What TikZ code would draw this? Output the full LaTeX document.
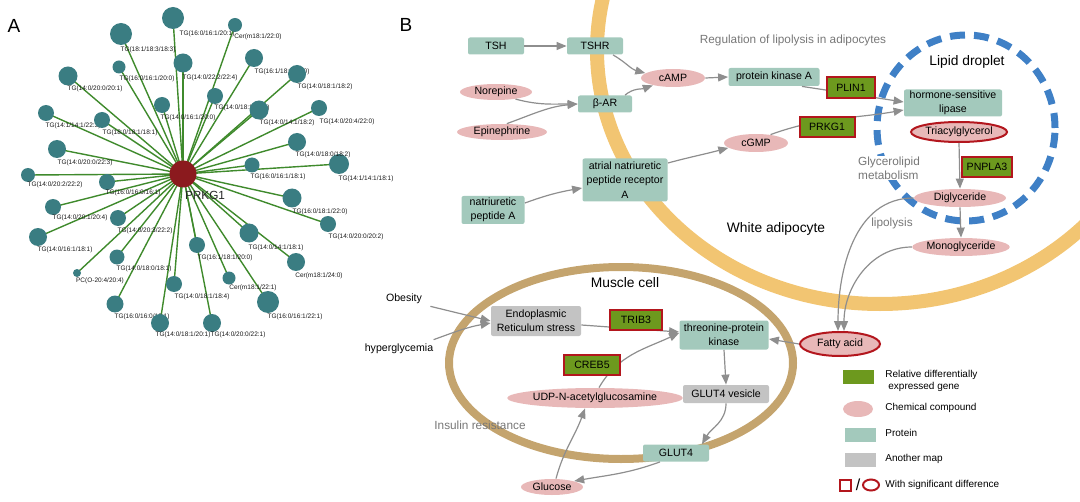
\documentclass[tikz,border=0pt]{standalone}
\usepackage{fontspec}
\setmainfont{Liberation Sans}
\usetikzlibrary{arrows.meta,shapes.geometric,backgrounds}
\definecolor{spokegreen}{HTML}{3F8A2C}
\definecolor{leafteal}{HTML}{3A7D82}
\definecolor{hubred}{HTML}{8B1A1E}
\definecolor{protc}{HTML}{A3C9BC}
\definecolor{genec}{HTML}{6D991E}
\definecolor{sigred}{HTML}{B3161D}
\definecolor{chemc}{HTML}{E8B8B8}
\definecolor{mapgray}{HTML}{C3C3C3}
\definecolor{arrgray}{HTML}{8E8E8E}
\definecolor{adipo}{HTML}{F2C572}
\definecolor{musclec}{HTML}{C4A46E}
\definecolor{droplet}{HTML}{3F80C6}
\definecolor{labgray}{HTML}{777777}
\tikzset{
  leaf/.style={circle, fill=leafteal, inner sep=0pt},
  lbl/.style={font=\fontsize{3.25}{3.7}\selectfont, inner sep=0pt, text=black!90},
  spoke/.style={draw=spokegreen, line width=0.7pt},
  protbox/.style={rectangle, rounded corners=1pt, fill=protc, font=\fontsize{5.3}{7.2}\selectfont, inner sep=0pt, align=center},
  mapbox/.style={protbox, fill=mapgray},
  genebox/.style={rectangle, fill=genec, draw=sigred, line width=1pt, font=\fontsize{5.3}{7.2}\selectfont, inner sep=0pt},
  chemell/.style={ellipse, fill=chemc, inner sep=0pt, font=\fontsize{5.3}{7.2}\selectfont},
  sigell/.style={chemell, draw=sigred, line width=1pt},
  arr/.style={draw=arrgray, line width=0.6pt, -{Triangle[length=5pt,width=4pt]}},
  plaintext/.style={font=\fontsize{5.3}{7.2}\selectfont, inner sep=0pt},
  grayt/.style={font=\fontsize{5.9}{7.2}\selectfont, text=labgray, inner sep=0pt},
  headt/.style={font=\fontsize{6.9}{8}\selectfont, inner sep=0pt},
  legt/.style={font=\fontsize{5}{6.4}\selectfont, inner sep=0pt, anchor=west, align=left},
  legbox/.style={rectangle, inner sep=0pt, minimum width=15.5pt, minimum height=6.8pt},
  panel/.style={font=\fontsize{9.5}{10}\selectfont, inner sep=0pt}
}
\newcommand\leafnode[7]{%
  \node[leaf, minimum size=#4pt] (#1) at (#2,#3) {};
  \node[lbl] (#1l) at (#5,#6) {#7};
  \begin{pgfonlayer}{background}\draw[spoke] (hub.center) -- (#1.center);\end{pgfonlayer}}
\begin{document}
\begin{tikzpicture}[x=0.5pt,y=-0.5pt]
\useasboundingbox (0,0) rectangle (1080,502);
% ---------------- Panel A ----------------
\node[panel] (pa) at (14,26) {A};
\node[circle, fill=hubred, minimum size=13.5pt, inner sep=0pt] (hub) at (183,174) {};
\node[font=\fontsize{5.9}{7}\selectfont, inner sep=0pt, text=black!85] (hubl) at (205,195) {PRKG1};
\leafnode{a1}{173}{18}{11}{207}{34}{TG(16:0/16:1/20:1)}
\leafnode{a2}{121}{34}{11}{148}{50}{TG(18:1/18:3/18:3)}
\leafnode{a3}{119}{67}{6.5}{147}{79}{TG(16:0/16:1/20:0)}
\leafnode{a4}{183}{63}{9.5}{210}{78}{TG(14:0/22:2/22:4)}
\leafnode{a5}{68}{76}{9.5}{95}{89}{TG(14:0/20:0/20:1)}
\leafnode{a6}{162}{105}{8}{188}{118}{TG(14:0/16:1/20:0)}
\leafnode{a7}{46}{113}{8}{73}{126}{TG(14:1/14:1/22:3)}
\leafnode{a8}{102}{120}{8}{130}{133}{TG(18:0/18:1/18:1)}
\leafnode{a9}{57}{149}{9}{85}{163}{TG(14:0/20:0/22:3)}
\leafnode{a10}{28}{175}{7}{55}{185}{TG(14:0/20:2/22:2)}
\leafnode{a11}{107}{182}{8}{133}{193}{TG(16:0/16:0/16:1)}
\leafnode{a12}{53}{207}{8}{80}{218}{TG(14:0/20:1/20:4)}
\leafnode{a13}{118}{218}{8}{145}{231}{TG(14:0/20:3/22:2)}
\leafnode{a14}{38}{237}{9}{65}{250}{TG(14:0/16:1/18:1)}
\leafnode{a15}{117}{257}{7.5}{144}{269}{TG(14:0/18:0/18:1)}
\leafnode{a16}{77}{273}{4}{100}{281}{PC(O-20:4/20:4)}
\leafnode{a17}{174}{284}{8}{202}{297}{TG(14:0/18:1/18:4)}
\leafnode{a18}{115}{304}{8.5}{142}{317}{TG(16:0/16:0/18:1)}
\leafnode{a19}{160}{323}{9}{183}{335}{TG(14:0/18:1/20:1)}
\leafnode{a20}{212}{323}{9}{238}{335}{TG(14:0/20:0/22:1)}
\leafnode{a21}{252}{165}{7.5}{278}{177}{TG(16:0/16:1/18:1)}
\leafnode{a22}{339}{164}{10}{366}{179}{TG(14:1/14:1/18:1)}
\leafnode{a23}{292}{198}{9.5}{320}{212}{TG(16:0/18:1/22:0)}
\leafnode{a24}{328}{224}{8}{356}{237}{TG(14:0/20:0/20:2)}
\leafnode{a25}{249}{233}{9.5}{276}{248}{TG(14:0/14:1/18:1)}
\leafnode{a26}{197}{245}{8}{225}{258}{TG(16:1/18:1/20:0)}
\leafnode{a27}{296}{262}{9}{319}{276}{Cer(m18:1/24:0)}
\leafnode{a28}{229}{278}{6.5}{253}{288}{Cer(m18:1/22:1)}
\leafnode{a29}{268}{302}{11}{295}{317}{TG(16:0/16:1/22:1)}
\leafnode{a30}{235}{25}{7}{258}{37}{Cer(m18:1/22:0)}
\leafnode{a31}{254}{58}{9}{282}{72}{TG(16:1/18:2/20:0)}
\leafnode{a32}{297}{74}{9}{325}{87}{TG(14:0/18:1/18:2)}
\leafnode{a33}{215}{96}{8}{242}{108}{TG(14:0/18:1/20:2)}
\leafnode{a34}{259}{110}{9.5}{287}{123}{TG(14:0/14:1/18:2)}
\leafnode{a35}{319}{108}{8}{347}{122}{TG(14:0/20:4/22:0)}
\leafnode{a36}{297}{142}{9}{323}{155}{TG(14:0/18:0/18:2)}
% ---------------- Panel B ----------------
\node[panel] (pb) at (406,25) {B};
\begin{scope}
\clip (400,0) rectangle (1080,502);
\draw[adipo, line width=7pt] (880,50) ellipse [x radius=141.5pt, y radius=127pt];
\end{scope}
\draw[musclec, line width=4pt] (621,363) ellipse [x radius=86pt, y radius=48pt];
\draw[droplet, line width=3.5pt, dash pattern=on 7.5pt off 4.5pt] (966,128) ellipse [x radius=44.5pt, y radius=46.5pt];
% texts
\node[grayt] (reglab) at (793,40) {Regulation of lipolysis in adipocytes};
\node[headt] (lipd) at (967,62) {Lipid droplet};
\node[grayt, align=left, fill=white] (glyc) at (889,168) {Glycerolipid\\metabolism};
\node[headt] (wadip) at (776,229) {White adipocyte};
\node[grayt] (lipo) at (892,223) {lipolysis};
\node[headt] (mcell) at (625,283) {Muscle cell};
\node[grayt] (insr) at (480,425) {Insulin resistance};
% nodes
\node[protbox, minimum width=28pt, minimum height=8.5pt] (tsh) at (496,46) {TSH};
\node[protbox, minimum width=28pt, minimum height=8.5pt] (tshr) at (595,46) {TSHR};
\node[chemell, minimum width=32pt, minimum height=9pt] (camp) at (673,78) {cAMP};
\node[protbox, minimum width=45.5pt, minimum height=9pt] (pka) at (774,77) {protein kinase A};
\node[chemell, minimum width=36pt, minimum height=8pt] (nor) at (496,92) {Norepine};
\node[protbox, minimum width=27pt, minimum height=8.5pt] (bar) at (605,104) {β-AR};
\node[chemell, minimum width=45pt, minimum height=8pt] (epi) at (502,132) {Epinephrine};
\node[protbox, minimum width=42.5pt, minimum height=21.5pt] (anpr) at (625,180) {atrial natriuretic\\peptide receptor\\A};
\node[protbox, minimum width=31.5pt, minimum height=14pt] (npa) at (493,210) {natriuretic\\peptide A};
\node[chemell, minimum width=32pt, minimum height=9pt] (cgmp) at (756,143) {cGMP};
\node[protbox, minimum width=49pt, minimum height=13.5pt] (hsl) at (953,103) {hormone-sensitive\\lipase};
\node[sigell, minimum width=48pt, minimum height=10pt] (tag) at (959,132) {Triacylglycerol};
\node[chemell, minimum width=46pt, minimum height=9pt] (dig) at (960,198) {Diglyceride};
\node[chemell, minimum width=46pt, minimum height=9pt] (mono) at (961,247) {Monoglyceride};
\node[sigell, minimum width=40pt, minimum height=12pt] (fa) at (840,344) {Fatty acid};
\node[mapbox, minimum width=45pt, minimum height=15pt] (er) at (536,321) {Endoplasmic\\Reticulum stress};
\node[protbox, minimum width=44.5pt, minimum height=14.5pt] (tpk) at (724,335) {threonine-protein\\kinase};
\node[chemell, minimum width=74pt, minimum height=10pt] (udp) at (595,398) {UDP-N-acetylglucosamine};
\node[mapbox, minimum width=43pt, minimum height=9pt] (gv) at (726,394) {GLUT4 vesicle};
\node[protbox, minimum width=33pt, minimum height=8.5pt] (glut) at (676,453) {GLUT4};
\node[chemell, minimum width=31pt, minimum height=8pt] (glu) at (552,487) {Glucose};
\node[plaintext] (obe) at (404,299) {Obesity};
\node[plaintext] (hyp) at (399,349) {hyperglycemia};
% arrows
\draw[arr] (tsh.east) -- (tshr.west);
\draw[arr] ([xshift=9pt]tshr.south) to[out=-30,in=165] (camp.170);
\draw[arr] ([xshift=10pt]bar.north) to[out=40,in=200] (camp.200);
\draw[arr] (camp.east) -- (pka.west);
\draw[arr] (nor.-20) to[out=-15,in=180] (bar.west);
\draw[arr] (epi.60) to[out=20,in=185] (bar.west);
\draw[arr] ([xshift=14pt]pka.south) -- ([yshift=0.5pt]hsl.west);
\draw[arr] (cgmp.30) to[out=20,in=190] ([yshift=-3.5pt]hsl.west);
\draw[arr] ([yshift=3.5pt]npa.east) to[out=20,in=190] ([yshift=-4pt]anpr.west);
\draw[arr] ([yshift=8.5pt]anpr.east) to[out=15,in=195] (cgmp.190);
\draw[arr] (tag.south) -- (dig.north);
\draw[arr] (dig.south) -- (mono.north);
\draw[arr] (dig.west) to[out=180,in=90] ([xshift=-1pt]fa.north);
\draw[arr] (mono.west) to[out=180,in=90] ([xshift=2pt]fa.north);
\draw[arr] (fa.west) -- ([yshift=-2pt]tpk.east);
\draw[arr] ([xshift=4pt,yshift=-1pt]obe.south east) -- (er.west);
\draw[arr] ([yshift=2pt]hyp.north east) to[out=20,in=190] ([yshift=-1pt]er.west);
\draw[arr] ([yshift=-2pt]er.east) -- ([yshift=1.5pt]tpk.west);
\draw[arr] ([xshift=2pt]udp.north) to[out=60,in=205] ([yshift=1pt]tpk.west);
\draw[arr] (tpk.south) -- (gv.north);
\draw[arr] (gv.south) to[out=-90,in=60] ([xshift=13pt]glut.north);
\draw[arr] ([xshift=-8pt]glut.south) to[out=-160,in=10] (glu.15);
\draw[arr] ([xshift=2pt]glu.north) to[out=75,in=-110] ([xshift=-5pt]udp.south);
% gene boxes
\node[genebox, minimum width=24pt, minimum height=10.5pt] (plin) at (851,88) {PLIN1};
\node[genebox, minimum width=27.5pt, minimum height=10pt] (prkg) at (827,127) {PRKG1};
\node[genebox, minimum width=25pt, minimum height=10pt] (pnpla) at (987,167) {PNPLA3};
\node[genebox, minimum width=26pt, minimum height=10pt] (trib) at (636,320) {TRIB3};
\node[genebox, minimum width=28pt, minimum height=10pt] (creb) at (592,365) {CREB5};
% legend
\node[legbox, fill=genec] (lg1) at (858,377) {};
\node[legt] (lt1) at (885,381) {Relative differentially\\\hspace{1.5pt}expressed gene};
\node[ellipse, fill=chemc, inner sep=0pt, minimum width=15pt, minimum height=8pt] (lg2) at (858,409) {};
\node[legt] (lt2) at (885,408) {Chemical compound};
\node[legbox, fill=protc] (lg3) at (860,435) {};
\node[legt] (lt3) at (885,433) {Protein};
\node[legbox, fill=mapgray] (lg4) at (860,460) {};
\node[legt] (lt4) at (885,459) {Another map};
\node[rectangle, draw=sigred, line width=1pt, inner sep=0pt, minimum size=5.5pt] (lg5a) at (845,485) {};
\node[font=\fontsize{8}{8}\selectfont, inner sep=0pt] (lg5s) at (858,485) {/};
\node[ellipse, draw=sigred, line width=1pt, inner sep=0pt, minimum width=8pt, minimum height=5.5pt] (lg5b) at (871,485) {};
\node[legt] (lt5) at (885,485) {With significant difference};
\end{tikzpicture}
\end{document}
